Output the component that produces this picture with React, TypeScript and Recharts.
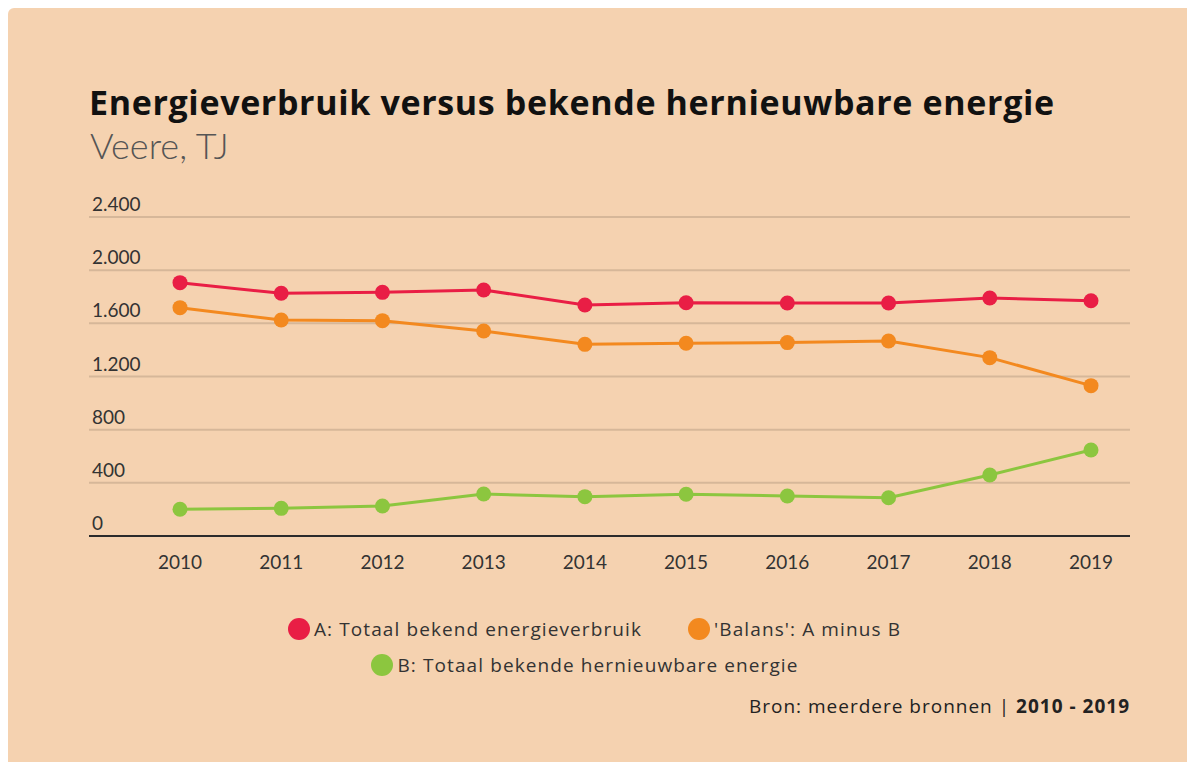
import React from 'react'
import { LineChart, Line, XAxis, YAxis, CartesianGrid, Legend } from 'recharts'

const years = ['2010', '2011', '2012', '2013', '2014', '2015', '2016', '2017', '2018', '2019']
const totaalVerbruik = [1906, 1826, 1833, 1851, 1738, 1755, 1753, 1753, 1791, 1770]
const balans = [1718, 1625, 1620, 1542, 1442, 1450, 1455, 1467, 1342, 1131]
const hernieuwbaar = [201, 208, 226, 316, 296, 314, 301, 288, 459, 647]
const yTicks = [0, 400, 800, 1200, 1600, 2000, 2400]
const seriesNames = ['A: Totaal bekend energieverbruik', "'Balans': A minus B", 'B: Totaal bekende hernieuwbare energie']

const data = years.map((year, i) => ({
    year,
    verbruik: totaalVerbruik[i],
    balans: balans[i],
    hernieuwbaar: hernieuwbaar[i],
}))

const FONT = 'Lato, "Open Sans", sans-serif'
const WIDE = '"Open Sans", sans-serif'

// dutch thousands separator: 2400 -> 2.400
const fmt = (v: number) => String(v).replace(/\B(?=(\d{3})+(?!\d))/g, '.')

const YTick = (props: any) => {
    const { x, y, payload } = props
    return (
        <text x={x + 3} y={y - 6} fill="#333" fontSize={19} fontFamily={FONT} textAnchor="start">
            {fmt(payload.value)}
        </text>
    )
}

const renderLegend = (props: any) => {
    const payload = props.payload || []
    // keep the order of the series, not alphabetical
    const items = seriesNames.map((n) => payload.find((p: any) => p.value === n)).filter(Boolean)
    const item = (entry: any) => (
        <span key={entry.value} style={{ display: 'inline-flex', alignItems: 'center' }}>
            <span style={{ width: 22, height: 22, borderRadius: '50%', background: entry.color, marginRight: 4 }} />
            <span style={{ fontSize: 19, letterSpacing: 1.1, color: '#333', lineHeight: '24px' }}>{entry.value}</span>
        </span>
    )
    return (
        <div style={{ height: 110, boxSizing: 'border-box', paddingTop: 41, fontFamily: WIDE }}>
            <div style={{ display: 'flex', justifyContent: 'center', gap: 46, paddingLeft: 51, height: 24 }}>
                {items.slice(0, 2).map(item)}
            </div>
            <div style={{ display: 'flex', justifyContent: 'center', paddingLeft: 32, marginTop: 12, height: 24 }}>
                {items.slice(2).map(item)}
            </div>
        </div>
    )
}

const App: React.FC = () => {
    return (
        <div style={{ position: 'relative', width: 1187, height: 754, background: '#F5D2B0', borderTopLeftRadius: 6, fontFamily: FONT }}>
            <div style={{ position: 'absolute', left: 81, top: 77, fontFamily: WIDE, fontSize: 34, fontWeight: 700, letterSpacing: 0.65, color: '#111', lineHeight: 1, whiteSpace: 'nowrap' }}>
                Energieverbruik versus bekende hernieuwbare energie
            </div>
            <div style={{ position: 'absolute', left: 82, top: 119, fontSize: 36, fontWeight: 300, color: '#555', lineHeight: 1 }}>
                Veere, TJ
            </div>
            <LineChart width={1187} height={754} data={data} margin={{ top: 209, right: 65, bottom: 76, left: 0 }}>
                <CartesianGrid vertical={false} stroke="#D6B799" strokeWidth={2} />
                <XAxis
                    dataKey="year"
                    padding={{ left: 91, right: 39 }}
                    tickLine={false}
                    tickSize={0}
                    tickMargin={20}
                    height={40}
                    axisLine={{ stroke: '#2b2b2b', strokeWidth: 2 }}
                    tick={{ fill: '#333', fontSize: 19, fontFamily: FONT }}
                />
                <YAxis
                    width={81}
                    domain={[0, 2400]}
                    ticks={yTicks}
                    interval={0}
                    axisLine={false}
                    tickLine={false}
                    tickSize={0}
                    tickMargin={0}
                    tick={(p: any) => <YTick {...p} />}
                />
                <Legend height={110} verticalAlign="bottom" content={renderLegend} />
                <Line type="linear" dataKey="verbruik" name={seriesNames[0]} stroke="#E91E45" strokeWidth={3}
                    dot={{ r: 7.5, fill: '#E91E45', strokeWidth: 0 }} activeDot={false} isAnimationActive={false} />
                <Line type="linear" dataKey="balans" name={seriesNames[1]} stroke="#F3891F" strokeWidth={3}
                    dot={{ r: 7.5, fill: '#F3891F', strokeWidth: 0 }} activeDot={false} isAnimationActive={false} />
                <Line type="linear" dataKey="hernieuwbaar" name={seriesNames[2]} stroke="#8CC63F" strokeWidth={3}
                    dot={{ r: 7.5, fill: '#8CC63F', strokeWidth: 0 }} activeDot={false} isAnimationActive={false} />
            </LineChart>
            <div style={{ position: 'absolute', right: 65, top: 689, fontFamily: WIDE, fontSize: 19, letterSpacing: 1, color: '#222', lineHeight: 1, whiteSpace: 'nowrap' }}>
                Bron: meerdere bronnen | <b>2010 - 2019</b>
            </div>
        </div>
    )
}

export default App
